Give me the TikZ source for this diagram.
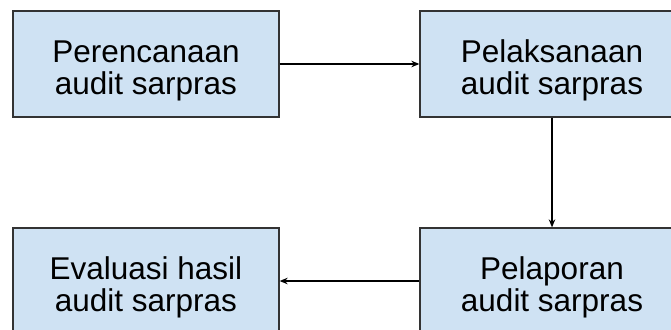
\documentclass[tikz,border=0pt]{standalone}
\usepackage{fontspec}
\setmainfont{Liberation Sans}
\usepackage{xcolor}
\usetikzlibrary{arrows.meta,positioning}

\definecolor{stepfill}{HTML}{CFE2F3}
\definecolor{stepline}{HTML}{333333}

% two centred lines, sitting a little low in the box
\newcommand{\steptext}[2]{\raisebox{-8pt}[\height][\depth]{\begin{tabular}{@{}c@{}}#1\\#2\end{tabular}}}

\begin{document}
\begin{tikzpicture}[
  x=1pt, y=-1pt,
  stepbox/.style={rectangle, draw=stepline, fill=stepfill, line width=1.3pt,
                  minimum width=266pt, minimum height=106pt, align=center,
                  inner sep=0pt, font=\fontsize{31.5}{32}\selectfont},
  arr/.style={-{Stealth[length=8pt,width=6.5pt]}, line width=1.2pt}
]
\useasboundingbox (0,0) rectangle (671,329);
\clip (0,0) rectangle (671,329);

\node[stepbox] (perencanaan) at (146,64)  {\steptext{Perencanaan}{audit sarpras}};
\node[stepbox, minimum width=264pt] (pelaksanaan) at (552,64)  {\steptext{Pelaksanaan}{audit sarpras}};
\node[stepbox, minimum width=264pt] (pelaporan)   at (552,281) {\steptext{Pelaporan}{audit sarpras}};
\node[stepbox] (evaluasi)    at (146,281) {\steptext{Evaluasi hasil}{audit sarpras}};

\draw[arr] (perencanaan) -- (pelaksanaan);
\draw[arr] (pelaksanaan) -- (pelaporan);
\draw[arr] (pelaporan)   -- (evaluasi);
\end{tikzpicture}
\end{document}
